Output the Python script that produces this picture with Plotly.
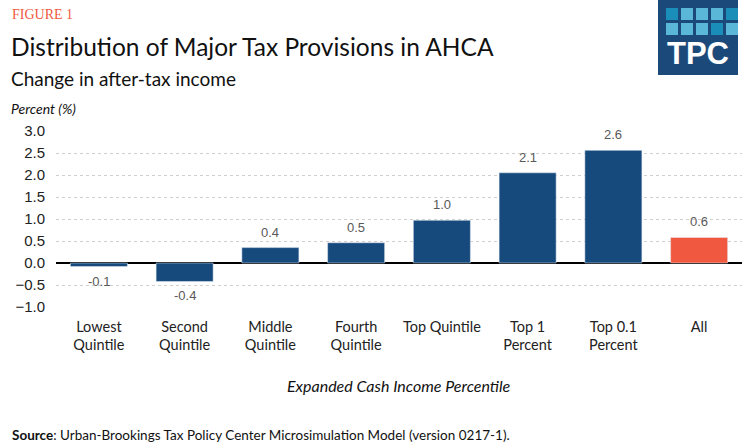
import plotly.graph_objects as go

categories = ["Lowest<br>Quintile", "Second<br>Quintile", "Middle<br>Quintile", "Fourth<br>Quintile",
              "Top Quintile", "Top 1<br>Percent", "Top 0.1<br>Percent", "All"]
values = [-0.08, -0.42, 0.35, 0.46, 0.97, 2.05, 2.56, 0.58]
labels = ["-0.1", "-0.4", "0.4", "0.5", "1.0", "2.1", "2.6", "0.6"]
y_ticks = [-1.0, -0.5, 0.0, 0.5, 1.0, 1.5, 2.0, 2.5, 3.0]

BLUE = "#174A7C"
RED = "#F0583F"
colors = [RED if c == "All" else BLUE for c in categories]

W, H = 746, 448
L, R, T, B = 56, 4, 131, 141
PW, PH = W - L - R, H - T - B


def px(x):
    return (x - L) / PW


def py(y):
    return (H - B - y) / PH


fig = go.Figure()
fig.add_trace(go.Bar(x=categories, y=values, marker_color=colors, width=0.665,
                     hoverinfo="skip"))

annotations = []
for c, v, lab in zip(categories, values, labels):
    annotations.append(dict(x=c, y=v, xref="x", yref="y", text=lab, showarrow=False,
                            yanchor="bottom" if v >= 0 else "top",
                            yshift=6 if v >= 0 else -5,
                            font=dict(family="Liberation Sans", size=13, color="#595959")))

TF = "Lato"
annotations += [
    dict(x=px(10), y=py(14), xref="paper", yref="paper", xanchor="left", yanchor="middle",
         text="FIGURE 1", showarrow=False,
         font=dict(family="Liberation Serif", size=14, color="#F0583F")),
    dict(x=px(9), y=py(46), xref="paper", yref="paper", xanchor="left", yanchor="middle",
         text="Distribution of Major Tax Provisions in AHCA", showarrow=False,
         font=dict(family=TF, size=24.5, color="#111111")),
    dict(x=px(9), y=py(78), xref="paper", yref="paper", xanchor="left", yanchor="middle",
         text="Change in after-tax income", showarrow=False,
         font=dict(family=TF, size=19, color="#111111")),
    dict(x=px(9), y=py(108), xref="paper", yref="paper", xanchor="left", yanchor="middle",
         text="<i>Percent (%)</i>", showarrow=False,
         font=dict(family=TF, size=14, color="#111111")),
    dict(x=px(399), y=py(385), xref="paper", yref="paper", xanchor="center", yanchor="middle",
         text="<i>Expanded Cash Income Percentile</i>", showarrow=False,
         font=dict(family=TF, size=16, color="#111111")),
    dict(x=px(10), y=py(435), xref="paper", yref="paper", xanchor="left", yanchor="middle",
         text="<b>Source</b>: Urban-Brookings Tax Policy Center Microsimulation Model (version 0217-1).",
         showarrow=False, font=dict(family=TF, size=13.5, color="#111111")),
    dict(x=px(698), y=py(53), xref="paper", yref="paper", xanchor="center", yanchor="middle",
         text="<b>TPC</b>", showarrow=False,
         font=dict(family="Liberation Sans", size=31, color="#FFFFFF")),
]

shapes = [dict(type="rect", xref="paper", yref="paper", x0=px(658), x1=px(738),
               y0=py(75), y1=py(0), fillcolor="#1B4A7A", line=dict(width=0), layer="above")]
DARK_SQ, LIGHT_SQ = "#1A8DB8", "#5BB7D8"
grid_colors = [[DARK_SQ, LIGHT_SQ, LIGHT_SQ, LIGHT_SQ, DARK_SQ],
               [LIGHT_SQ, LIGHT_SQ, LIGHT_SQ, DARK_SQ, LIGHT_SQ]]
for ri, row in enumerate(grid_colors):
    for ci, col in enumerate(row):
        x0 = 666 + ci * 15
        y0 = 8 + ri * 15
        shapes.append(dict(type="rect", xref="paper", yref="paper", x0=px(x0), x1=px(x0 + 12),
                           y0=py(y0 + 12), y1=py(y0), fillcolor=col, line=dict(width=0),
                           layer="above"))

fig.update_layout(
    width=W, height=H,
    margin=dict(l=L, r=R, t=T, b=B, pad=0),
    paper_bgcolor="white", plot_bgcolor="white",
    showlegend=False,
    bargap=0.335,
    annotations=annotations,
    shapes=shapes,
    xaxis=dict(showgrid=False, showline=False, ticks="",
               tickfont=dict(family=TF, size=14.5, color="#222222"),
               ticklabelstandoff=9),
    yaxis=dict(range=[-1.0, 3.0], tickvals=y_ticks, tickformat=".1f",
               showgrid=True, gridcolor="#CFCFCF", griddash="dot", gridwidth=1,
               zeroline=True, zerolinecolor="#000000", zerolinewidth=1.5,
               showline=False, ticks="", ticklabelstandoff=10,
               tickfont=dict(family="Liberation Sans", size=15, color="#222222")),
)

fig.write_html("out.html", config={"displayModeBar": False},
               post_script="document.body.style.margin='0px';")
